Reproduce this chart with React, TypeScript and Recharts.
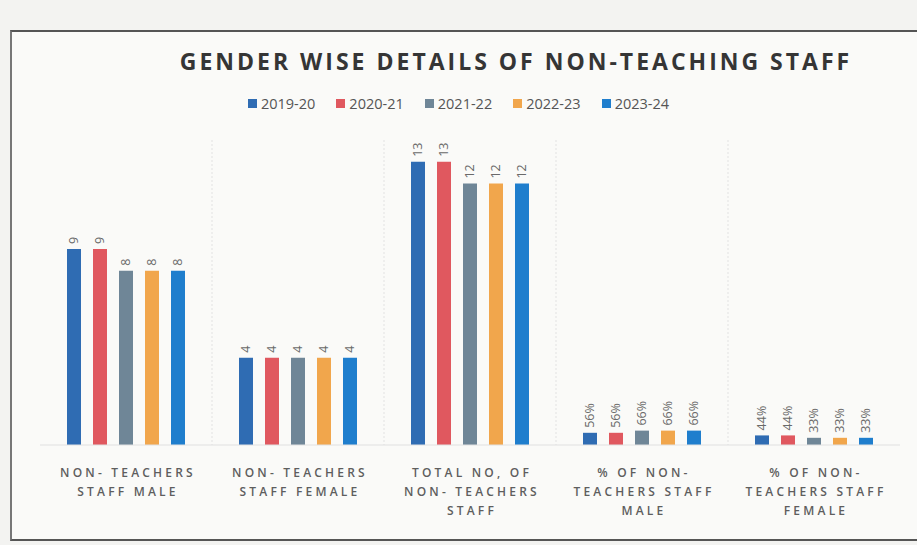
import React from 'react';
import { BarChart, Bar, XAxis, YAxis, CartesianGrid, Legend, LabelList } from 'recharts';

const title = 'GENDER WISE DETAILS OF NON-TEACHING STAFF';
const categories = [
  'NON- TEACHERS\nSTAFF MALE',
  'NON- TEACHERS\nSTAFF FEMALE',
  'TOTAL NO, OF\nNON- TEACHERS\nSTAFF',
  '% OF NON-\nTEACHERS STAFF\nMALE',
  '% OF NON-\nTEACHERS STAFF\nFEMALE',
];
const years = ['2019-20', '2020-21', '2021-22', '2022-23', '2023-24'];
const values2019 = [9, 4, 13, 0.56, 0.44];
const values2020 = [9, 4, 13, 0.56, 0.44];
const values2021 = [8, 4, 12, 0.66, 0.33];
const values2022 = [8, 4, 12, 0.66, 0.33];
const values2023 = [8, 4, 12, 0.66, 0.33];
const colors = ['#2f6cb3', '#e0585f', '#6f8697', '#f1a64c', '#1f7ecd'];

const seriesValues = [values2019, values2020, values2021, values2022, values2023];
const data = categories.map((name, i) => {
  const row: any = { name };
  years.forEach((y, s) => {
    row[y] = seriesValues[s][i];
  });
  return row;
});

const fmt = (v: number) => (v < 1 ? `${Math.round(v * 100)}%` : String(v));

const renderLabel = (props: any) => {
  const { x, y, width, value } = props;
  const cx = Number(x) + Number(width) / 2;
  const ty = Number(y) - 5;
  return (
    <text
      x={cx}
      y={ty}
      transform={`rotate(-90 ${cx} ${ty})`}
      textAnchor="start"
      dominantBaseline="central"
      fontSize={12.5}
      fontFamily="'Open Sans', sans-serif"
      fill="#6a6a6a"
    >
      {fmt(Number(value))}
    </text>
  );
};

const CategoryTick = (props: any) => {
  const { x, y, payload } = props;
  const lines = String(payload.value).split('\n');
  return (
    <text
      x={x}
      y={y}
      textAnchor="middle"
      fontSize={12}
      fontWeight={600}
      fontFamily="'Open Sans', sans-serif"
      fill="#5e5e5e"
      letterSpacing={3.2}
    >
      {lines.map((l, i) => (
        <tspan key={i} x={x + 2} dy={i === 0 ? 32 : 19}>
          {l}
        </tspan>
      ))}
    </text>
  );
};

const LegendContent = () => (
  <div
    style={{
      display: 'flex',
      justifyContent: 'center',
      gap: 21,
      fontFamily: "'Open Sans', sans-serif",
      fontSize: 14.5,
      color: '#555',
    }}
  >
    {years.map((y, i) => (
      <div key={y} style={{ display: 'flex', alignItems: 'center' }}>
        <span style={{ display: 'inline-block', width: 9, height: 9, background: colors[i], marginRight: 4 }} />
        <span>{y}</span>
      </div>
    ))}
  </div>
);

export default function App() {
  return (
    <div style={{ position: 'absolute', left: 0, top: 0, width: 917, height: 545, background: '#f3f3f1', overflow: 'hidden' }}>
      <div
        style={{
          position: 'absolute',
          left: 10,
          top: 30,
          width: 920,
          height: 507,
          borderTop: '2px solid #555',
          borderLeft: '2px solid #777',
          borderBottom: '2px solid #555',
          background: '#fafaf8',
        }}
      />
      <div
        style={{
          position: 'absolute',
          left: 0,
          top: 45,
          width: 917,
          paddingLeft: 115,
          boxSizing: 'border-box',
          textAlign: 'center',
          fontFamily: "'Open Sans', sans-serif",
          fontWeight: 700,
          fontSize: 23,
          letterSpacing: 3,
          color: '#353535',
        }}
      >
        {title}
      </div>
      <div style={{ position: 'absolute', left: 0, top: 0 }}>
        <BarChart
          width={917}
          height={545}
          data={data}
          margin={{ top: 140, right: 17, bottom: 0, left: 40 }}
          barSize={14}
          barGap={12}
          barCategoryGap={27}
        >
          <CartesianGrid
            horizontal={false}
            vertical
            stroke="#e2e2e2"
            strokeDasharray="2 2"
            verticalCoordinatesGenerator={({ offset }: any) =>
              [1, 2, 3, 4].map((i) => offset.left + (offset.width * i) / categories.length)
            }
          />
          <XAxis
            dataKey="name"
            height={100}
            tickSize={0}
            tickMargin={0}
            tickLine={false}
            axisLine={{ stroke: '#e0e0e0' }}
            tick={<CategoryTick />}
            interval={0}
          />
          <YAxis hide domain={[0, 14]} />
          <Legend
            verticalAlign="middle"
            align="center"
            layout="horizontal"
            wrapperStyle={{ top: 94, left: 0, width: 917, height: 22 }}
            content={<LegendContent />}
          />
          {years.map((y, i) => (
            <Bar key={y} dataKey={y} fill={colors[i]} isAnimationActive={false}>
              <LabelList dataKey={y} content={renderLabel} />
            </Bar>
          ))}
        </BarChart>
      </div>
    </div>
  );
}
